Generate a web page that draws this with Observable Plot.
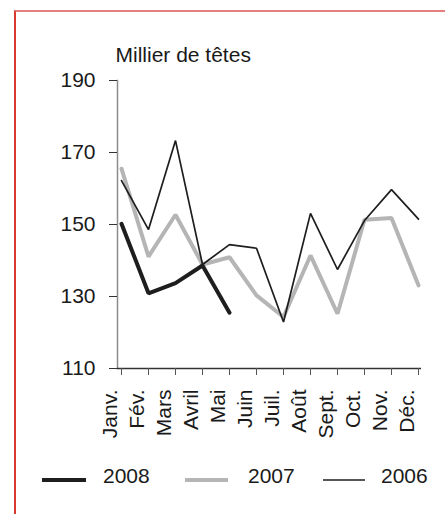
<!DOCTYPE html>
<html>
<head>
<meta charset="utf-8">
<script src="https://cdn.jsdelivr.net/npm/d3@7"></script>
<script src="https://cdn.jsdelivr.net/npm/@observablehq/plot@0.6"></script>
<style>
  html, body { margin: 0; padding: 0; background: #fff; }
  #wrap { position: relative; width: 445px; height: 514px; overflow: hidden; font-family: "Liberation Sans", Arial, sans-serif; color: #1a1a1a; }
  #frame { position: absolute; left: 14px; top: 10px; width: 440px; height: 520px; border-left: 2px solid #d8392c; border-top: 2px solid #e37f7f; box-sizing: border-box; }
  #chart { position: absolute; left: 0; top: 0; }
  #legend { position: absolute; left: 0; top: 455px; }
</style>
</head>
<body>
<div id="wrap">
  <div id="frame"></div>
  <div id="chart"></div>
  <svg id="legend" width="445" height="50"></svg>
</div>
<script>
const months = ["Janv.", "Fév.", "Mars", "Avril", "Mai", "Juin", "Juil.", "Août", "Sept.", "Oct.", "Nov.", "Déc."];
const yTicks = [110, 130, 150, 170, 190];
const v2006 = [162.2, 148.6, 173.3, 138.9, 144.4, 143.4, 122.9, 153.1, 137.5, 151.1, 159.7, 151.5];
const v2007 = [165.5, 141.1, 152.7, 138.9, 140.9, 130.3, 124.3, 141.4, 125.2, 151.3, 151.8, 133.1];
const v2008 = [150.2, 130.9, 133.7, 138.6, 125.5];
const title = "Millier de têtes";
const seriesNames = ["2008", "2007", "2006"];
const seriesColors = ["#1e1e1e", "#b5b5b5", "#1e1e1e"];
const seriesWidths = [4, 4, 1.7];
const FS = 21;

const chart = Plot.plot({
  width: 445,
  height: 450,
  marginLeft: 117,
  marginRight: 24,
  marginTop: 80,
  marginBottom: 82,
  style: { fontFamily: "'Liberation Sans', Arial, sans-serif", fontSize: FS + "px", color: "#1a1a1a", background: "transparent", overflow: "visible" },
  x: { type: "point", domain: months, padding: 0 },
  y: { domain: [110, 190] },
  marks: [
    Plot.frame({ anchor: "left", stroke: "#8c8c8c", strokeWidth: 1.5 }),
    Plot.ruleY([110], { stroke: "#333", strokeWidth: 1.3 }),
    Plot.axisY({ ticks: yTicks, tickSize: 8, tickPadding: 14, label: null, fontSize: FS, stroke: "#333" }),
    Plot.axisX({ tickSize: 7, text: null, stroke: "#555" }),
    Plot.axisX({ tickSize: 0, tickPadding: 21, tickRotate: -90, label: null, fontSize: FS, dx: -11 }),
    Plot.lineY(v2007, { x: months, stroke: seriesColors[1], strokeWidth: seriesWidths[1], strokeLinejoin: "miter" }),
    Plot.lineY(v2006, { x: months, stroke: seriesColors[2], strokeWidth: seriesWidths[2], strokeLinejoin: "miter" }),
    Plot.lineY(v2008, { x: months.slice(0, v2008.length), stroke: seriesColors[0], strokeWidth: seriesWidths[0], strokeLinejoin: "miter" }),
    Plot.text([title], { frameAnchor: "top-left", textAnchor: "start", lineAnchor: "bottom", dx: -2, dy: -19, fontSize: FS })
  ]
});
document.getElementById("chart").appendChild(chart);

// legend
const lg = d3.select("#legend");
const lineX = [[42, 86], [185, 228], [323, 365]];
const textX = [103, 248, 381];
seriesNames.forEach((name, i) => {
  lg.append("line").attr("x1", lineX[i][0]).attr("x2", lineX[i][1]).attr("y1", 25).attr("y2", 25)
    .attr("stroke", seriesColors[i]).attr("stroke-width", seriesWidths[i]);
  lg.append("text").attr("x", textX[i]).attr("y", 28).attr("font-size", FS)
    .attr("font-family", "'Liberation Sans', Arial, sans-serif").attr("fill", "#1a1a1a").text(name);
});
</script>
</body>
</html>
